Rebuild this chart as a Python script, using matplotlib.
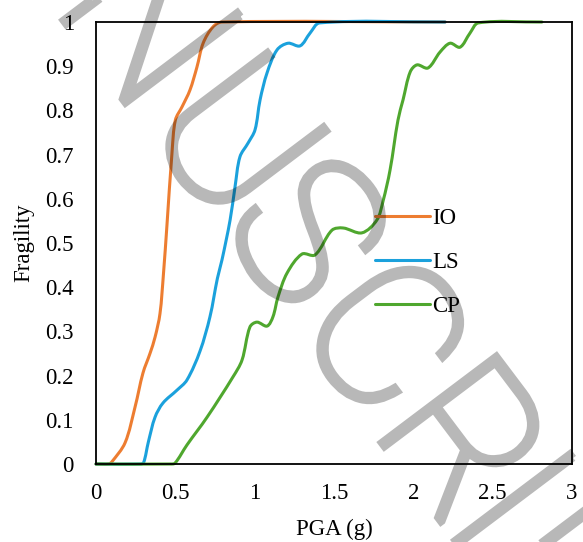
import numpy as np
import matplotlib
matplotlib.use('Agg')
import matplotlib.pyplot as plt
import matplotlib.patheffects as pe
from matplotlib.path import Path
from matplotlib.patches import PathPatch

plt.rcParams['font.family'] = 'Liberation Serif'

# fragility curves, PGA (g) vs probability
io_pga = [0, 0.08, 0.10, 0.183, 0.246, 0.296, 0.34, 0.372, 0.403, 0.425, 0.447, 0.479,
          0.50, 0.542, 0.592, 0.636, 0.675, 0.737, 0.794, 2.2]
io_val = [0, 0, 0.005, 0.048, 0.129, 0.206, 0.25, 0.287, 0.34, 0.43, 0.54, 0.705,
          0.778, 0.808, 0.846, 0.898, 0.952, 0.989, 1.0, 1.0]

ls_pga = [0, 0.28, 0.30, 0.33, 0.372, 0.422, 0.51, 0.573, 0.655, 0.718, 0.765, 0.794,
          0.845, 0.876, 0.907, 0.958, 1.002, 1.034, 1.078, 1.141, 1.21, 1.286,
          1.349, 1.41, 2.2]
ls_val = [0, 0, 0.003, 0.05, 0.106, 0.138, 0.167, 0.19, 0.255, 0.333, 0.42, 0.462,
          0.552, 0.627, 0.695, 0.726, 0.756, 0.824, 0.885, 0.937, 0.952, 0.946,
          0.975, 0.998, 1.0]

cp_pga = [0, 0.47, 0.498, 0.573, 0.70, 0.863, 0.92, 0.97, 1.014, 1.078, 1.115, 1.147,
          1.204, 1.298, 1.38, 1.487, 1.557, 1.676, 1.77, 1.809, 1.853, 1.903,
          1.935, 1.98, 2.023, 2.092, 2.168, 2.231, 2.294, 2.357, 2.41, 2.81]
cp_val = [0, 0, 0.002, 0.043, 0.106, 0.197, 0.235, 0.31, 0.321, 0.312, 0.333, 0.378,
          0.432, 0.475, 0.473, 0.529, 0.534, 0.523, 0.552, 0.595, 0.665, 0.778,
          0.824, 0.887, 0.903, 0.896, 0.932, 0.952, 0.943, 0.975, 0.998, 1.0]

x_ticks = [0, 0.5, 1, 1.5, 2, 2.5, 3]
x_labels = ['0', '0.5', '1', '1.5', '2', '2.5', '3']
y_ticks = [0, 0.1, 0.2, 0.3, 0.4, 0.5, 0.6, 0.7, 0.8, 0.9, 1]
y_labels = ['0', '0.1', '0.2', '0.3', '0.4', '0.5', '0.6', '0.7', '0.8', '0.9', '1']


def smooth_path(xs, ys, sx=158.7, sy=442.0):
    # bezier through the points, chord-length tangents (like a spreadsheet "smoothed line")
    p = np.column_stack([xs, ys]) * [sx, sy]
    d = np.hypot(*np.diff(p, axis=0).T)
    m = np.zeros_like(p)
    m[0] = (p[1] - p[0]) / d[0]
    m[-1] = (p[-1] - p[-2]) / d[-1]
    for i in range(1, len(p) - 1):
        m[i] = (p[i + 1] - p[i - 1]) / (d[i - 1] + d[i])
    verts = [p[0]]
    codes = [Path.MOVETO]
    for i in range(len(p) - 1):
        verts += [p[i] + m[i] * d[i] / 3, p[i + 1] - m[i + 1] * d[i] / 3, p[i + 1]]
        codes += [Path.CURVE4] * 3
    return Path(np.array(verts) / [sx, sy], codes)


class OutlineOnly(pe.AbstractPathEffect):
    # draw the glyph outline with a wide pen and no fill, so the letters get
    # thicker without the translucent fill doubling up on the stroke
    def __init__(self, width):
        super().__init__()
        self.width = width

    def draw_path(self, renderer, gc, tpath, affine, rgbFace=None):
        gc0 = renderer.new_gc()
        gc0.copy_properties(gc)
        gc0.set_linewidth(self.width)
        gc0.set_joinstyle('miter')
        renderer.draw_path(gc0, tpath, affine, None)
        gc0.restore()


W, H = 583, 542
fig = plt.figure(figsize=(W / 100, H / 100), dpi=100)
ax = fig.add_axes([0.1647, 0.1439, 0.8165, 0.8155])

series = [(io_pga, io_val, '#ED7D31', 'IO'),
          (ls_pga, ls_val, '#1BA1DC', 'LS'),
          (cp_pga, cp_val, '#4FA72E', 'CP')]
for xs, ys, c, name in series:
    ax.add_patch(PathPatch(smooth_path(xs, ys), fill=False, edgecolor=c, lw=2.2,
                           capstyle='round', joinstyle='round', clip_on=False))
    ax.plot([], [], color=c, lw=2.2, label=name, solid_capstyle='round')

ax.set_xlim(0, 3)
ax.set_ylim(0, 1)
ax.set_xticks(x_ticks)
ax.set_xticklabels(x_labels)
ax.set_yticks(y_ticks)
ax.set_yticklabels(y_labels)
ax.tick_params(length=0, labelsize=16.5)
ax.tick_params(axis='x', pad=14)
ax.tick_params(axis='y', pad=16)
for s in ax.spines.values():
    s.set_linewidth(1.3)

ax.set_xlabel('PGA (g)', fontsize=16.5, labelpad=10)
ax.set_ylabel('Fragility', fontsize=16.5, labelpad=8)

ax.legend(loc='upper left', bbox_to_anchor=(0.586, 0.579), frameon=False,
          fontsize=16.5, handlelength=2.4, handletextpad=0.1, labelspacing=1.0,
          borderpad=0, borderaxespad=0)

# diagonal watermark, one letter at a time along a slanted baseline (pixels)
ang = np.deg2rad(53)
along = np.array([np.cos(ang), np.sin(ang)])
up = np.array([np.sin(ang), -np.cos(ang)])
for ch, b in zip('NUSCRIP', [106, 252, 370, 500, 630, 708, 800]):
    px, py = b * along + 38 * up
    fig.text(px / W, 1 - py / H, ch, family='Roboto', fontweight='light', fontsize=146,
             rotation=-53, rotation_mode='anchor', ha='center', va='baseline',
             color='black', alpha=0.28, zorder=10, path_effects=[OutlineOnly(5)])

fig.savefig('out.png', dpi=100)
